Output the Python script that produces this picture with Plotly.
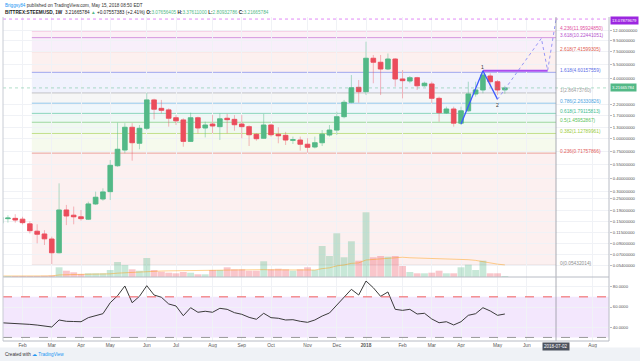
import math
import pandas as pd
import plotly.graph_objects as go

# ---------------- data ----------------
week_start = "2017-01-16"
n_weeks = 70
dates = pd.date_range(week_start, periods=n_weeks, freq="7D")

opens = [0.143, 0.159, 0.160, 0.157, 0.141, 0.119, 0.1117, 0.0995, 0.0726, 0.194,
         0.172, 0.166, 0.157, 0.223, 0.250, 0.296, 0.537, 0.771, 1.30, 0.90,
         1.27, 2.44, 2.01, 1.94, 1.62, 1.54, 0.94, 1.62, 1.28, 1.40,
         1.32, 1.60, 1.56, 1.40, 1.32, 1.106, 1.01, 1.37, 1.106, 1.08,
         0.965, 0.97, 0.88, 0.826, 0.912, 1.089, 1.22, 1.66, 2.31, 3.26,
         2.95, 6.36, 5.80, 4.97, 6.25, 3.95, 3.77, 4.07, 3.38, 3.52,
         2.53, 1.81, 1.98, 1.43, 1.90, 2.80, 3.07, 4.23, 3.71, 3.07656405]
highs = [0.169, 0.172, 0.176, 0.166, 0.149, 0.1396, 0.122, 0.105, 0.358, 0.218,
         0.21, 0.194, 0.235, 0.296, 0.319, 0.612, 1.445, 1.43, 1.43, 1.37,
         2.88, 2.51, 2.44, 2.01, 1.72, 1.60, 1.82, 1.66, 1.48, 1.72,
         1.79, 1.77, 1.72, 1.72, 1.36, 1.13, 1.77, 1.40, 1.30, 1.17,
         1.05, 1.05, 1.01, 1.05, 1.22, 1.37, 1.86, 2.44, 4.33, 3.86,
         9.31, 6.86, 6.86, 7.10, 6.36, 4.85, 4.23, 4.15, 3.71, 3.71,
         2.63, 2.09, 2.09, 2.09, 3.71, 3.71, 4.70, 4.50, 3.86, 3.37611000]
lows = [0.141, 0.145, 0.145, 0.139, 0.113, 0.090, 0.0867, 0.056, 0.0715, 0.137,
        0.1396, 0.152, 0.154, 0.218, 0.240, 0.244, 0.525, 0.715, 0.603, 0.784,
        1.22, 1.56, 1.79, 1.32, 1.37, 0.832, 0.934, 1.13, 1.03, 1.13,
        0.97, 1.13, 1.20, 1.01, 0.845, 0.955, 1.00, 1.05, 0.90, 0.865,
        0.885, 0.76, 0.725, 0.80, 0.845, 1.05, 1.09, 1.60, 2.26, 2.29,
        2.73, 3.58, 2.73, 4.85, 3.31, 2.53, 3.58, 3.07, 3.31, 2.26,
        1.48, 1.77, 1.32, 1.37, 1.86, 2.63, 2.84, 3.31, 2.73, 2.80932786]
closes = [0.164, 0.161, 0.154, 0.145, 0.1205, 0.111, 0.100, 0.0726, 0.194, 0.169,
          0.166, 0.159, 0.223, 0.260, 0.294, 0.542, 0.784, 1.30, 0.912, 1.27,
          2.44, 1.97, 1.92, 1.60, 1.51, 0.94, 1.62, 1.28, 1.37, 1.34,
          1.58, 1.55, 1.38, 1.32, 1.096, 1.00, 1.37, 1.096, 1.07, 0.97,
          0.975, 0.88, 0.82, 0.912, 1.11, 1.22, 1.66, 2.31, 3.23, 2.95,
          6.36, 5.80, 4.97, 6.25, 3.95, 3.80, 4.07, 3.38, 3.58, 2.53,
          1.82, 1.98, 1.43, 1.90, 2.80, 3.07, 4.33, 3.71, 3.07, 3.21665784]
volumes = [1, 1, 1, 1, 1, 1, 1.2, 1.5, 9.7, 6.3,
           4.7, 3, 3.7, 3.7, 3.7, 7, 15, 12, 7.7, 6.3,
           19, 7, 5.3, 4.3, 3.7, 5, 4.3, 2.7, 2.7, 7,
           7, 9.7, 7.7, 7.7, 6.3, 6.3, 15.7, 7.7, 8.3, 7.7,
           6.3, 7.7, 9.7, 7, 31, 21, 43.7, 19.7, 35.7, 16.3,
           64.7, 19.7, 21, 20.3, 21, 11, 5, 3.7, 3.7, 4.3,
           6.3, 3.7, 3.7, 9.7, 12.3, 7, 16.3, 3.7, 3.7, 1]
rsi = [44.5, 44.2, 43.9, 43.6, 42.9, 42.2, 41.4, 40.3, 47.2, 45.9,
       45.7, 45.5, 49.5, 51.5, 53.4, 64.2, 71.1, 80.7, 64.2, 70.5,
       81.0, 71.8, 69.6, 63.0, 61.0, 51.4, 59.3, 54.8, 55.8, 54.8,
       58.7, 57.7, 54.4, 52.8, 49.8, 47.9, 53.8, 49.5, 48.9, 47.2,
       47.5, 45.9, 44.9, 47.2, 51.1, 54.1, 62.0, 70.1, 77.4, 71.8,
       85.6, 79.0, 70.5, 74.8, 57.7, 56.7, 57.7, 53.1, 53.8, 48.2,
       44.5, 45.5, 42.3, 45.5, 51.8, 53.4, 59.3, 56.1, 51.8, 53.1]

fib_ratios = [0, 0.236, 0.382, 0.5, 0.618, 0.786, 1, 1.618, 2.618, 3.618, 4.236]
fib_values = [0.05432014, 0.71757866, 1.12789961, 1.45952867, 1.79115813, 2.26330826,
              2.86473760, 4.60157559, 7.41599305, 10.22441051, 11.95924850]
fib_start = "2017-02-14 22:00"
fib_end = "2018-07-02"

price_ticks = [0.054, 0.07, 0.09, 0.115, 0.15, 0.19, 0.25, 0.30, 0.40, 0.55, 0.75,
               1.0, 1.3, 1.7, 2.2, 4.0, 5.5, 7.5, 9.5, 12.0]
rsi_ticks = [40, 60, 80]

month_ticks = ["2017-02-06", "2017-03-06", "2017-04-03", "2017-05-01", "2017-06-05",
               "2017-07-03", "2017-08-07", "2017-09-04", "2017-10-02", "2017-11-06",
               "2017-12-04", "2018-01-01", "2018-02-05", "2018-03-05", "2018-04-02",
               "2018-05-07", "2018-06-04", "2018-08-06"]
month_labels = ["Feb", "Mar", "Apr", "May", "Jun", "Jul", "Aug", "Sep", "Oct", "Nov",
                "Dec", "<b>2018</b>", "Feb", "Mar", "Apr", "May", "Jun", "Aug"]

wave_dates = ["2018-04-02", "2018-04-23", "2018-05-07"]
wave_prices = [1.40, 4.77, 2.47]
proj_dates = ["2018-05-07", "2018-06-18", "2018-06-24", "2018-07-02"]
proj_prices = [2.47, 10.06, 4.80, 15.6]
hline_dates = ["2018-04-23", "2018-06-24"]
hline_price = 4.78
cross_date = "2018-07-02"
cross_price = 15.68
cross_label = "13.07879679"
last_price = 3.21665784

# ---------------- styles ----------------
FONT = "Liberation Sans, Arial, sans-serif"
GREEN = "#53b987"
RED = "#eb4d5c"
fib_colors = ["#8c8c8c", "#e35d5d", "#9ccc3c", "#5cbf5c", "#3dbb8f", "#4aa3df",
              "#9e9e9e", "#5c6de6", "#e05a50", "#b452cd", "#df4fa0"]

W, H = 640, 361
mt, mb, ml, mr = 17, 20, 3, 31
ph = H - mt - mb
split = 64 / ph


def py(Y):
    return (H - mb - Y) / ph


fig = go.Figure()

vol_colors = ["rgba(83,185,135,0.32)" if c >= o else "rgba(235,77,92,0.32)"
              for o, c in zip(opens, closes)]
vol_ma = pd.Series(volumes).rolling(20, min_periods=1).mean()

fig.add_trace(go.Bar(x=dates, y=volumes, marker_color=vol_colors, marker_line_width=0,
                     xaxis="x", yaxis="y", hoverinfo="skip"))
fig.add_trace(go.Scatter(x=dates, y=vol_ma, mode="lines",
                         line=dict(color="rgba(255,152,0,0.55)", width=0.8),
                         xaxis="x", yaxis="y", hoverinfo="skip"))

# wicks (light)
fig.add_trace(go.Candlestick(
    x=dates, open=opens, high=highs, low=lows, close=closes, xaxis="x", yaxis="y2",
    increasing=dict(line=dict(color="rgba(83,185,135,0.45)", width=1), fillcolor="rgba(0,0,0,0)"),
    decreasing=dict(line=dict(color="rgba(235,77,92,0.40)", width=1), fillcolor="rgba(0,0,0,0)"),
    whiskerwidth=0, hoverinfo="skip"))
# bodies
body_hi = [max(o, c) for o, c in zip(opens, closes)]
body_lo = [min(o, c) for o, c in zip(opens, closes)]
fig.add_trace(go.Candlestick(
    x=dates, open=opens, high=body_hi, low=body_lo, close=closes, xaxis="x", yaxis="y2",
    increasing=dict(line=dict(color=GREEN, width=0.7), fillcolor=GREEN),
    decreasing=dict(line=dict(color=RED, width=0.7), fillcolor=RED),
    whiskerwidth=0, hoverinfo="skip"))

# wave drawings
fig.add_trace(go.Scatter(x=hline_dates, y=[hline_price, hline_price], mode="lines",
                         line=dict(color="#a94cf0", width=2), xaxis="x", yaxis="y2",
                         hoverinfo="skip"))
fig.add_trace(go.Scatter(x=wave_dates, y=wave_prices, mode="lines",
                         line=dict(color="#3d5afe", width=1.3), xaxis="x", yaxis="y2",
                         hoverinfo="skip"))
fig.add_trace(go.Scatter(x=proj_dates, y=proj_prices, mode="lines",
                         line=dict(color="#8c8cf5", width=0.9, dash="dot"), xaxis="x",
                         yaxis="y2", hoverinfo="skip"))

# RSI
fig.add_trace(go.Scatter(x=dates, y=rsi, mode="lines", line=dict(color="#3b3b3b", width=1),
                         xaxis="x", yaxis="y3", hoverinfo="skip"))

shapes = []
# fib fills and lines
for k in range(1, len(fib_values)):
    shapes.append(dict(type="rect", xref="x", yref="y2", x0=fib_start, x1=fib_end,
                       y0=fib_values[k - 1], y1=fib_values[k], fillcolor=fib_colors[k],
                       opacity=0.09, line=dict(width=0), layer="below"))
for k, v in enumerate(fib_values):
    shapes.append(dict(type="line", xref="x", yref="y2", x0=fib_start, x1=fib_end,
                       y0=v, y1=v, line=dict(color=fib_colors[k], width=1), opacity=0.55,
                       layer="below"))
# RSI band
shapes.append(dict(type="rect", xref="paper", yref="y3", x0=0, x1=1, y0=30, y1=70,
                   fillcolor="#f3e7fd", line=dict(width=0), layer="below"))
shapes.append(dict(type="line", xref="paper", yref="y3", x0=0, x1=1, y0=70, y1=70,
                   line=dict(color="#f05a5a", width=1, dash="dash")))
shapes.append(dict(type="line", xref="paper", yref="y3", x0=0, x1=1, y0=30, y1=30,
                   line=dict(color="#9a9a9a", width=1, dash="dash")))
# current price line
shapes.append(dict(type="line", xref="paper", yref="y2", x0=0, x1=1, y0=last_price,
                   y1=last_price, line=dict(color="rgba(83,185,135,0.45)", width=1, dash="dot")))
# crosshair lines
shapes.append(dict(type="line", xref="paper", yref="y2", x0=0, x1=1, y0=cross_price,
                   y1=cross_price, line=dict(color="rgba(213,90,245,0.7)", width=1, dash="dot")))
shapes.append(dict(type="line", xref="x", yref="paper", x0=cross_date, x1=cross_date,
                   y0=0, y1=1, line=dict(color="#9598a1", width=0.8)))
# borders / separators
shapes.append(dict(type="line", xref="paper", yref="paper", x0=0, x1=1, y0=split, y1=split,
                   line=dict(color="#b8bcc5", width=1)))
shapes.append(dict(type="line", xref="paper", yref="paper", x0=1, x1=1, y0=0, y1=1,
                   line=dict(color="#b8bcc5", width=1)))
shapes.append(dict(type="line", xref="paper", yref="paper", x0=0, x1=0, y0=0, y1=1,
                   line=dict(color="#c8ccd4", width=1)))
shapes.append(dict(type="line", xref="paper", yref="paper", x0=0, x1=1, y0=0, y1=0,
                   line=dict(color="#b8bcc5", width=1)))
# bottom band
shapes.append(dict(type="rect", xref="paper", yref="paper", x0=-ml / 606, x1=1 + mr / 606,
                   y0=py(361), y1=py(347.5), fillcolor="#eff2f6", line=dict(width=0)))

ann = []
# header
ann.append(dict(xref="paper", yref="paper", x=0, y=py(5), xanchor="left", yanchor="middle",
                showarrow=False, font=dict(family=FONT, size=4.6, color="#333"),
                text="<span style='color:#2196f3'>Briggsy84</span> published on TradingView.com, May 15, 2018 08:50 EDT"))
g = GREEN
ann.append(dict(xref="paper", yref="paper", x=0, y=py(12.5), xanchor="left", yanchor="middle",
                showarrow=False, font=dict(family=FONT, size=4.7, color="#222"),
                text=("<b>BITTREX:STEEMUSD, 1W</b>  3.21665784 <span style='color:%s'>▲</span> +0.07557383 (+2.41%%) "
                      "<b>O:</b><span style='color:%s'>3.07656405</span> <b>H:</b><span style='color:%s'>3.37611000</span> "
                      "<b>L:</b><span style='color:%s'>2.80932786</span> <b>C:</b><span style='color:%s'>3.21665784</span>")
                % (g, g, g, g, g)))
# footer
ann.append(dict(xref="paper", yref="paper", x=0, y=py(354.3), xanchor="left", yanchor="middle",
                showarrow=False, font=dict(family=FONT, size=4.6, color="#333"),
                text="Created with <span style='color:#2196f3'>☁ TradingView</span>"))
# fib labels
for r, v, c in zip(fib_ratios, fib_values, fib_colors):
    ann.append(dict(xref="x", yref="y2", x=fib_end, y=math.log10(v), xanchor="left",
                    yanchor="middle", xshift=1.5, yshift=2, showarrow=False,
                    font=dict(family=FONT, size=4.8, color=c),
                    text="%g(%.8f)" % (r, v)))
# axis price labels
ann.append(dict(xref="paper", yref="y2", x=1, y=math.log10(cross_price), xanchor="left",
                yanchor="middle", xshift=1, yshift=-1.5, showarrow=False, bgcolor="#9c27e0",
                borderpad=1, font=dict(family=FONT, size=4.2, color="white"), text=cross_label))
ann.append(dict(xref="paper", yref="y2", x=1, y=math.log10(last_price), xanchor="left",
                yanchor="middle", xshift=1, showarrow=False, bgcolor=GREEN, borderpad=1,
                font=dict(family=FONT, size=4.2, color="white"), text="%.8f" % last_price))
# time crosshair label
ann.append(dict(xref="x", yref="paper", x=cross_date, y=0, xanchor="center", yanchor="top",
                yshift=-1, showarrow=False, bgcolor="#4c525e", borderpad=1,
                font=dict(family=FONT, size=4.5, color="white"), text="2018-07-02"))
# wave labels
ann.append(dict(xref="x", yref="y2", x=wave_dates[1], y=math.log10(wave_prices[1]),
                yanchor="bottom", showarrow=False, yshift=-1,
                font=dict(family=FONT, size=5, color="#333"), text="1"))
ann.append(dict(xref="x", yref="y2", x=wave_dates[2], y=math.log10(wave_prices[2]),
                yanchor="top", showarrow=False, yshift=-1,
                font=dict(family=FONT, size=5, color="#333"), text="2"))

GRID = "#f0f2f6"
fig.update_layout(
    width=W, height=H, margin=dict(l=ml, r=mr, t=mt, b=mb),
    paper_bgcolor="white", plot_bgcolor="white", showlegend=False,
    font=dict(family=FONT), boxgap=0.1, boxgroupgap=0.3, bargap=0.06,
    shapes=shapes, annotations=ann, hovermode=False,
    xaxis=dict(type="date", anchor="y3", range=["2017-01-18 06:43", "2018-08-21 18:29"],
               tickvals=month_ticks, ticktext=month_labels, showgrid=True, gridcolor=GRID,
               tickfont=dict(size=4.8, color="#555"), ticks="", zeroline=False,
               rangeslider=dict(visible=False), showline=False),
    yaxis=dict(domain=[split, 1], range=[0, 260], visible=False, fixedrange=True),
    yaxis2=dict(type="log", overlaying="y", anchor="x", side="right",
                range=[-1.3816, 1.2158], tickvals=price_ticks,
                ticktext=["%.8f" % t for t in price_ticks], showgrid=True, gridcolor=GRID,
                tickfont=dict(size=4.2, color="#555"), ticks="outside", ticklen=2,
                tickcolor="#b8bcc5", zeroline=False),
    yaxis3=dict(domain=[0, split], anchor="x", side="right", range=[26.5, 89.56],
                tickvals=rsi_ticks, ticktext=["%.4f" % t for t in rsi_ticks],
                showgrid=True, gridcolor=GRID, tickfont=dict(size=4.2, color="#555"),
                ticks="outside", ticklen=2, tickcolor="#b8bcc5", zeroline=False),
)

fig.write_html("out.html")
